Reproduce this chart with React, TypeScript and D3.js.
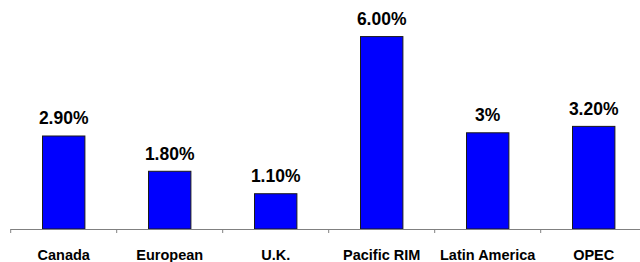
import React from "react";
import * as d3 from "d3";

const categories = ["Canada", "European", "U.K.", "Pacific RIM", "Latin America", "OPEC"];
const values = [2.9, 1.8, 1.1, 6.0, 3.0, 3.2];
const valueLabels = ["2.90%", "1.80%", "1.10%", "6.00%", "3%", "3.20%"];

const W = 640;
const H = 262;
const x0 = 10.7;
const step = 106;
const baseY = 229;

export default function App() {
  const x = d3
    .scaleBand<string>()
    .domain(categories)
    .range([x0, x0 + step * categories.length])
    .paddingInner(0.6)
    .paddingOuter(0.3);
  const y = d3.scaleLinear().domain([0, 7]).range([baseY, baseY - 7 * 32.07]);
  const edges = d3.range(categories.length + 1).map((i) => x0 + i * step);
  const font = "'Liberation Sans', Arial, sans-serif";

  return (
    <svg width={W} height={H} style={{ position: "absolute", left: 0, top: 0, background: "#fff" }}>
      {categories.map((c, i) => (
        <g key={c}>
          <rect
            x={x(c)!}
            y={y(values[i])}
            width={x.bandwidth()}
            height={baseY - y(values[i])}
            fill="#0000ff"
            stroke="#1a1a1a"
            strokeWidth={1}
          />
          <text
            x={x(c)! + x.bandwidth() / 2}
            y={y(values[i]) - 11.5}
            textAnchor="middle"
            fontFamily={font}
            fontWeight="bold"
            fontSize={17.5}
            fill="#000"
          >
            {valueLabels[i]}
          </text>
          <text
            x={x(c)! + x.bandwidth() / 2}
            y={260}
            textAnchor="middle"
            fontFamily={font}
            fontWeight="bold"
            fontSize={14.5}
            fill="#000"
          >
            {c}
          </text>
        </g>
      ))}
      <line x1={x0} x2={W} y1={baseY + 0.5} y2={baseY + 0.5} stroke="#808080" strokeWidth={1} />
      {edges.map((e, i) => (
        <line key={i} x1={e} x2={e} y1={baseY} y2={baseY + 4} stroke="#808080" strokeWidth={1} />
      ))}
    </svg>
  );
}
